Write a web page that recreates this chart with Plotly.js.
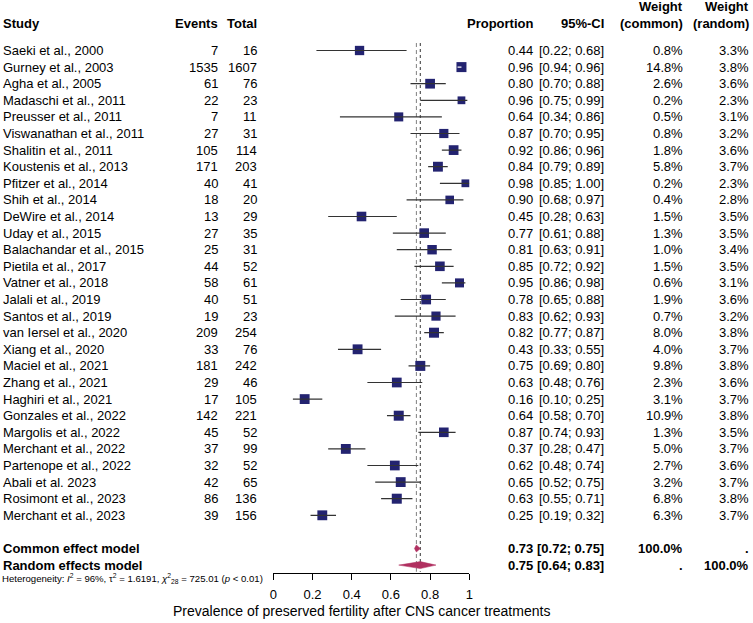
<!DOCTYPE html>
<html>
<head>
<meta charset="utf-8">
<script src="https://cdn.plot.ly/plotly-3.0.1.min.js"></script>
<style>html,body{margin:0;padding:0;background:#fff;}#chart{width:753px;height:623px;}</style>
</head>
<body>
<div id="chart"></div>
<script>
// ---------- data ----------
const studies = ["Saeki et al., 2000","Gurney et al., 2003","Agha et al., 2005","Madaschi et al., 2011","Preusser et al., 2011","Viswanathan et al., 2011","Shalitin et al., 2011","Koustenis et al., 2013","Pfitzer et al., 2014","Shih et al., 2014","DeWire et al., 2014","Uday et al., 2015","Balachandar et al., 2015","Pietila et al., 2017","Vatner et al., 2018","Jalali et al., 2019","Santos et al., 2019","van Iersel et al., 2020","Xiang et al., 2020","Maciel et al., 2021","Zhang et al., 2021","Haghiri et al., 2021","Gonzales et al., 2022","Margolis et al., 2022","Merchant et al., 2022","Partenope et al., 2022","Abali et al. 2023","Rosimont et al., 2023","Merchant et al., 2023"];
const events = [7,1535,61,22,7,27,105,171,40,18,13,27,25,44,58,40,19,209,33,181,29,17,142,45,37,32,42,86,39];
const totals = [16,1607,76,23,11,31,114,203,41,20,29,35,31,52,61,51,23,254,76,242,46,105,221,52,99,52,65,136,156];
const proportion = [0.44,0.96,0.80,0.96,0.64,0.87,0.92,0.84,0.98,0.90,0.45,0.77,0.81,0.85,0.95,0.78,0.83,0.82,0.43,0.75,0.63,0.16,0.64,0.87,0.37,0.62,0.65,0.63,0.25];
const ciLower = [0.22,0.94,0.70,0.75,0.34,0.70,0.86,0.79,0.85,0.68,0.28,0.61,0.63,0.72,0.86,0.65,0.62,0.77,0.33,0.69,0.48,0.10,0.58,0.74,0.28,0.48,0.52,0.55,0.19];
const ciUpper = [0.68,0.96,0.88,0.99,0.86,0.95,0.96,0.89,1.00,0.97,0.63,0.88,0.91,0.92,0.98,0.88,0.93,0.87,0.55,0.80,0.76,0.25,0.70,0.93,0.47,0.74,0.75,0.71,0.32];
const weightCommon = [0.8,14.8,2.6,0.2,0.5,0.8,1.8,5.8,0.2,0.4,1.5,1.3,1.0,1.5,0.6,1.9,0.7,8.0,4.0,9.8,2.3,3.1,10.9,1.3,5.0,2.7,3.2,6.8,6.3];
const weightRandom = [3.3,3.8,3.6,2.3,3.1,3.2,3.6,3.7,2.3,2.8,3.5,3.5,3.4,3.5,3.1,3.6,3.2,3.8,3.7,3.8,3.6,3.7,3.8,3.5,3.7,3.6,3.7,3.8,3.7];
const pooledLabels = ["Common effect model","Random effects model"];
const pooledEst = [0.73,0.75];
const pooledLower = [0.72,0.64];
const pooledUpper = [0.75,0.83];
const pooledWeightCommon = ["100.0%","."];
const pooledWeightRandom = [".","100.0%"];
const tickValues = [0,0.2,0.4,0.6,0.8,1];
const tickLabels = ["0","0.2","0.4","0.6","0.8","1"];
const headers = {study:"Study", events:"Events", total:"Total", prop:"Proportion", ci:"95%-CI", w1a:"Weight", w1b:"(common)", w2a:"Weight", w2b:"(random)"};
const heterogeneity = "Heterogeneity: <i>I</i><sup>2</sup> = 96%, τ<sup>2</sup> = 1.6191, <i>χ</i><sup>2</sup><sub>28</sub> = 725.01 (<i>p</i> < 0.01)";
const xTitle = "Prevalence of preserved fertility after CNS cancer treatments";

// ---------- layout constants ----------
const W = 753, H = 623;
const FONT = "Liberation Sans, Arial, Helvetica, sans-serif";
const rowTop = 50.5, rowStep = 16.6;      // pixel of row 0 and row spacing
const axisPx = 573;                        // pixel of x axis line
const x0px = 273.3, x1px = 469.3;          // pixels of 0 and 1
const pxPerUnit = x1px - x0px;
const squareColor = "#232370";
const diamondColor = "#b03060";
const n = studies.length;
const rows = studies.map((_, i) => i);
const pooledRows = [n + 1, n + 2];
const px = v => v / W;

// squares
const sizes = weightRandom.map(w => 10 * Math.sqrt(w / 3.8));
const traces = [];
traces.push({
  type: "scatter", mode: "markers", x: proportion, y: rows,
  marker: {symbol: "square", size: sizes, color: squareColor, opacity: 1, line: {width: 0}},
  opacity: 1, hoverinfo: "skip", cliponaxis: false
});
// CI lines (white when entirely inside the square)
const ciDark = {x: [], y: []}, ciWhite = {x: [], y: []};
for (let i = 0; i < n; i++) {
  const inside = (ciUpper[i] - ciLower[i]) * pxPerUnit < sizes[i];
  const t = inside ? ciWhite : ciDark;
  t.x.push(ciLower[i], ciUpper[i], null);
  t.y.push(rows[i], rows[i], null);
}
traces.push({type: "scatter", mode: "lines", x: ciDark.x, y: ciDark.y, line: {color: "#333333", width: 1.2}, hoverinfo: "skip", cliponaxis: false});
traces.push({type: "scatter", mode: "lines", x: ciWhite.x, y: ciWhite.y, line: {color: "#ffffff", width: 1.2}, hoverinfo: "skip", cliponaxis: false});
// diamonds
const dh = 0.21;
for (let k = 0; k < 2; k++) {
  const r = pooledRows[k];
  traces.push({
    type: "scatter", mode: "lines", fill: "toself", fillcolor: diamondColor,
    x: [pooledLower[k], pooledEst[k], pooledUpper[k], pooledEst[k], pooledLower[k]],
    y: [r, r - dh, r, r + dh, r],
    line: {color: diamondColor, width: 0.5}, hoverinfo: "skip", cliponaxis: false
  });
}

// reference lines
const shapes = [
  {type: "line", xref: "x", yref: "y", x0: pooledEst[0], x1: pooledEst[0], y0: -0.45, y1: pooledRows[1] + 0.4, line: {color: "#808080", width: 1, dash: "4px,3px"}, layer: "below"},
  {type: "line", xref: "x", yref: "y", x0: pooledEst[1], x1: pooledEst[1], y0: -0.45, y1: pooledRows[1] + 0.4, line: {color: "#444444", width: 1.1, dash: "dot"}, layer: "below"}
];

// annotations (table)
const ann = [];
function txt(x, y, text, anchor, opts) {
  opts = opts || {};
  ann.push({xref: "paper", yref: opts.yref || "y", x: px(x), y: y, text: text, xanchor: anchor, yanchor: "middle",
    showarrow: false, font: {family: FONT, size: opts.size || 13, color: "#000"}, borderpad: 0});
}
const colStudy = 2, colEvents = 218.5, colTotal = 258, colProp = 533.5, colCI = 605, colW1 = 683.5, colW2 = 749.5;
const hdrRow = -1.65, hdrRow2 = -2.64;
txt(colStudy, hdrRow, "<b>" + headers.study + "</b>", "left");
txt(colEvents, hdrRow, "<b>" + headers.events + "</b>", "right");
txt(colTotal, hdrRow, "<b>" + headers.total + "</b>", "right");
txt(colProp, hdrRow, "<b>" + headers.prop + "</b>", "right");
txt(colCI, hdrRow, "<b>" + headers.ci + "</b>", "right");
txt(colW1, hdrRow2, "<b>" + headers.w1a + "</b>", "right");
txt(colW1, hdrRow, "<b>" + headers.w1b + "</b>", "right");
txt(colW2, hdrRow2, "<b>" + headers.w2a + "</b>", "right");
txt(colW2, hdrRow, "<b>" + headers.w2b + "</b>", "right");
for (let i = 0; i < n; i++) {
  txt(colStudy, rows[i], studies[i], "left");
  txt(colEvents, rows[i], String(events[i]), "right");
  txt(colTotal, rows[i], String(totals[i]), "right");
  txt(colProp, rows[i], proportion[i].toFixed(2), "right");
  txt(colCI, rows[i], "[" + ciLower[i].toFixed(2) + "; " + ciUpper[i].toFixed(2) + "]", "right");
  txt(colW1, rows[i], weightCommon[i].toFixed(1) + "%", "right");
  txt(colW2, rows[i], weightRandom[i].toFixed(1) + "%", "right");
}
for (let k = 0; k < 2; k++) {
  const r = pooledRows[k];
  txt(colStudy, r, "<b>" + pooledLabels[k] + "</b>", "left");
  txt(colProp, r, "<b>" + pooledEst[k].toFixed(2) + "</b>", "right");
  txt(colCI, r, "<b>[" + pooledLower[k].toFixed(2) + "; " + pooledUpper[k].toFixed(2) + "]</b>", "right");
  txt(colW1, r, "<b>" + pooledWeightCommon[k] + "</b>", "right");
  txt(colW2, r, "<b>" + pooledWeightRandom[k] + "</b>", "right");
}
txt(1, (H - 578.5) / H, heterogeneity, "left", {size: 9.6, yref: "paper"});
ann.push({xref: "paper", yref: "paper", x: px(361), y: (H - 611) / H, text: xTitle, xanchor: "center", yanchor: "middle",
  showarrow: false, font: {family: FONT, size: 14, color: "#000"}});

const layout = {
  width: W, height: H, margin: {l: 0, r: 0, t: 0, b: 0},
  paper_bgcolor: "#fff", plot_bgcolor: "rgba(0,0,0,0)", showlegend: false,
  xaxis: {domain: [x0px / W, x1px / W], range: [0, 1], showgrid: false, zeroline: false,
    showline: true, linecolor: "#000", linewidth: 1, ticks: "outside", ticklen: 6, tickwidth: 1, tickcolor: "#000",
    ticklabelstandoff: 3,
    tickvals: tickValues, ticktext: tickLabels, tickfont: {family: FONT, size: 13, color: "#000"}, fixedrange: true},
  yaxis: {domain: [(H - axisPx) / H, 1], range: [(axisPx - rowTop) / rowStep, -rowTop / rowStep],
    showgrid: false, zeroline: false, showline: false, showticklabels: false, ticks: "", fixedrange: true},
  shapes: shapes, annotations: ann
};
Plotly.newPlot("chart", traces, layout, {displayModeBar: false, staticPlot: true});
</script>
</body>
</html>
